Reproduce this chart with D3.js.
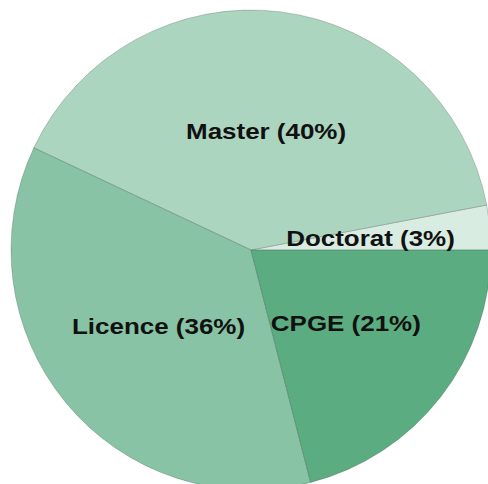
<!DOCTYPE html>
<html>
<head>
<meta charset="utf-8">
<style>
  body { margin: 0; background: #fff; }
  svg { display: block; }
  .label { font-family: "Liberation Sans", Arial, sans-serif; font-weight: bold; font-size: 22px; fill: #111; }
</style>
</head>
<body>
<script src="https://d3js.org/d3.v7.min.js"></script>
<script>
// data
var categories = ["Doctorat", "Master", "Licence", "CPGE"];
var shares = [3, 40, 36, 21];
var colors = ["#d8ece2", "#acd5c0", "#88c3a5", "#5bad81"];

var width = 488, height = 484;
var cx = 251, cy = 250, radius = 240;

var svg = d3.select("body").append("svg")
    .attr("width", width)
    .attr("height", height);

var g = svg.append("g")
    .attr("transform", "translate(" + cx + "," + cy + ")");

// start at 3 o'clock and go counter-clockwise
var pie = d3.pie()
    .sort(null)
    .value(function(d) { return d; })
    .startAngle(Math.PI / 2)
    .endAngle(Math.PI / 2 - 2 * Math.PI);

var arc = d3.arc().innerRadius(0).outerRadius(radius);

var arcs = pie(shares);

g.selectAll("path")
    .data(arcs)
    .enter().append("path")
    .attr("d", arc)
    .attr("fill", function(d, i) { return colors[i]; })
    .attr("stroke", "rgba(0,0,0,0.18)")
    .attr("stroke-width", 1);

// labels at the arc centroids (half radius)
g.selectAll("text")
    .data(arcs)
    .enter().append("text")
    .attr("class", "label")
    .attr("text-anchor", "middle")
    .attr("dy", "0.35em")
    .attr("transform", function(d) {
        var c = arc.centroid(d);
        return "translate(" + c[0] + "," + c[1] + ") scale(1.18,1)";
    })
    .text(function(d, i) { return categories[i] + " (" + shares[i] + "%)"; });
</script>
</body>
</html>
